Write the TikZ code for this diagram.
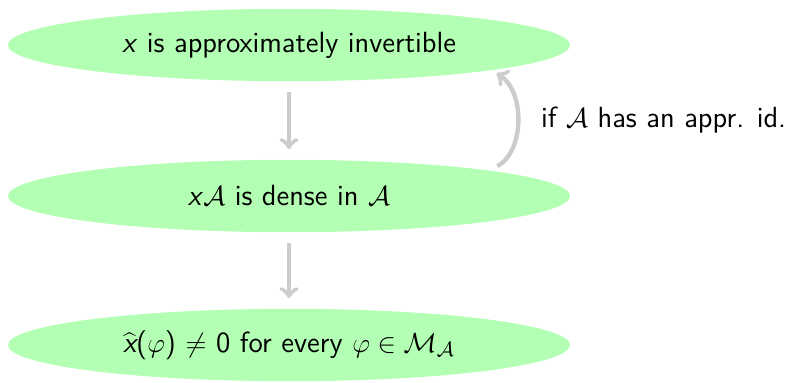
\documentclass[tikz,border=0pt]{standalone}
\usetikzlibrary{shapes.geometric}
\renewcommand{\familydefault}{\sfdefault}
\definecolor{hijau}{HTML}{B3FFB3}
\definecolor{abu}{HTML}{CCCCCC}
\begin{document}
\begin{tikzpicture}[x=0.435pt,y=-0.435pt,
      font=\fontsize{12.7}{15}\selectfont,
      gelembung/.style={ellipse,fill=hijau,inner sep=0pt,
        minimum width=244.5pt,minimum height=31.5pt},
      panah/.style={->,draw=abu,line width=1.9pt}]
    \useasboundingbox (0,0) rectangle (795,382);

    % --- Tiga pernyataan yang bertingkat ------------------------------------
    \node[gelembung] (atas) at (289,45)
      {\textit{x} is approximately invertible};
    \node[gelembung] (tengah) at (289,196)
      {\textit{x}$\mathcal{A}$ is dense in $\mathcal{A}$};
    \node[gelembung] (bawah) at (289,345)
      {$\widehat{\textit{x}}$($\varphi$) $\neq$ 0 for every
       $\varphi \in \mathcal{M}_{\mathcal{A}}$};

    % --- Panah --------------------------------------------------------------
    \draw[panah,shorten <=4.5pt,shorten >=4.5pt] (atas) -- (tengah);
    \draw[panah,shorten <=4.5pt,shorten >=4.5pt] (tengah) -- (bawah);
    % Arah balik hanya berlaku dengan syarat tambahan.
    \draw[panah,shorten <=3.5pt,shorten >=2pt]
      ([xshift=1pt]tengah.north east) to[bend right=60]
      ([xshift=2pt]atas.south east);
    \node[anchor=west] (syarat) at (533,120)
      {if $\mathcal{A}$ has an appr. id.};
  \end{tikzpicture}
\end{document}
